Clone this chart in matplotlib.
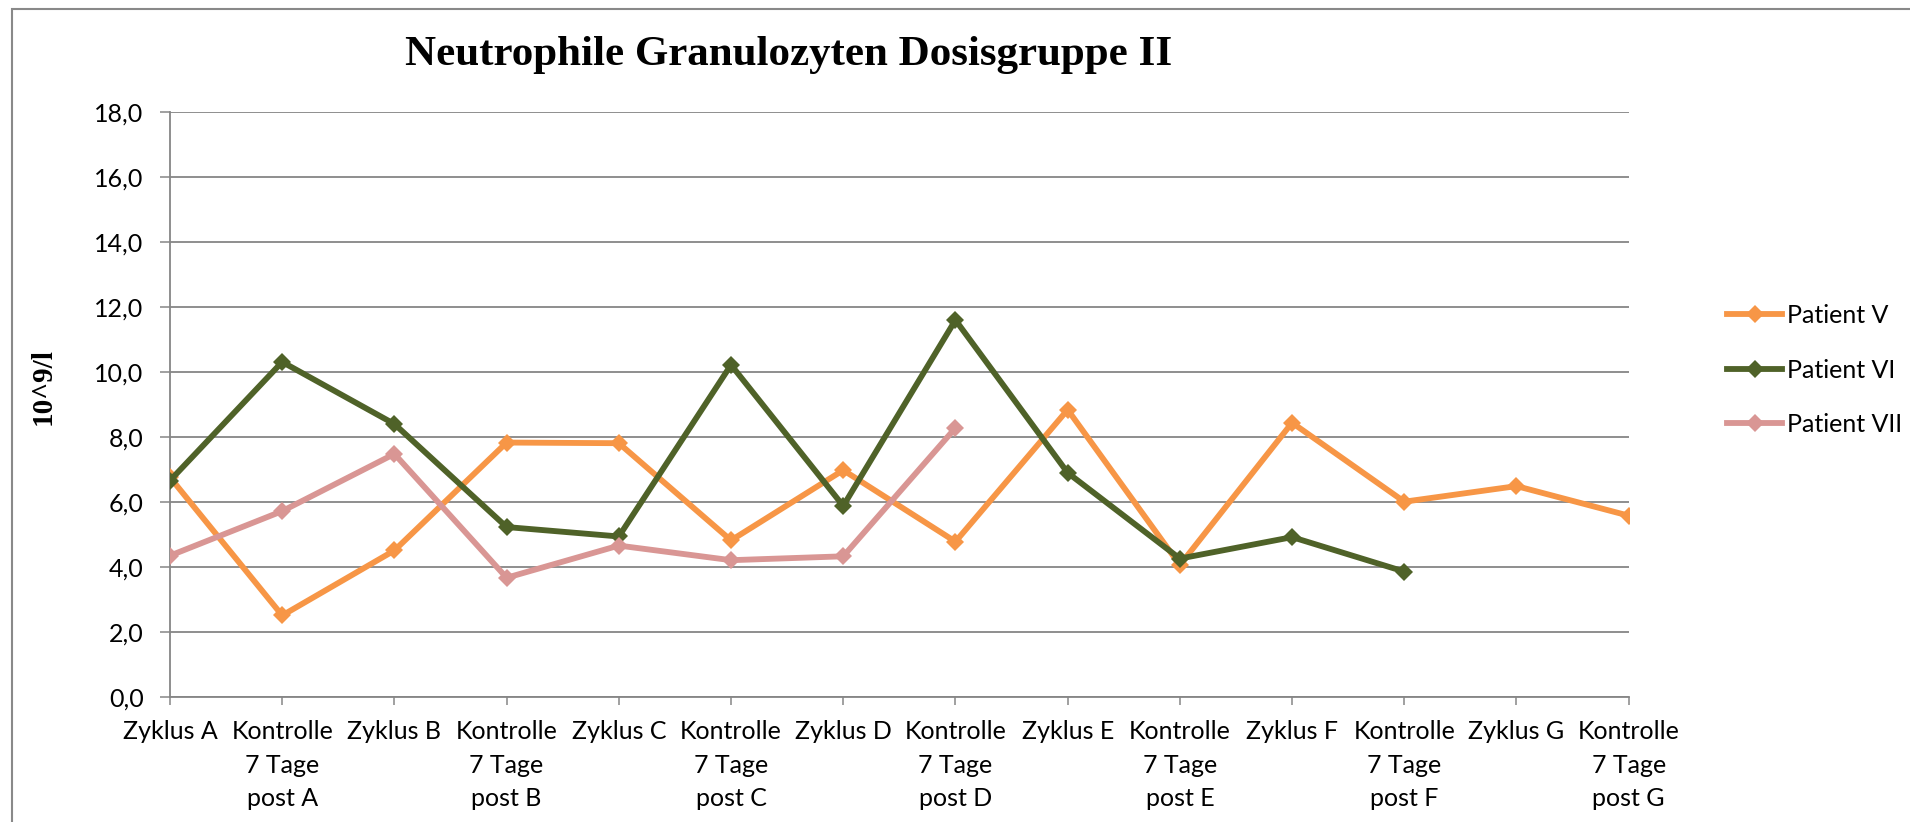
import numpy as np
import matplotlib
matplotlib.use("Agg")
import matplotlib.pyplot as plt
from matplotlib.patches import Rectangle

categories = ["Zyklus A", "Kontrolle\n7 Tage\npost A", "Zyklus B", "Kontrolle\n7 Tage\npost B",
              "Zyklus C", "Kontrolle\n7 Tage\npost C", "Zyklus D", "Kontrolle\n7 Tage\npost D",
              "Zyklus E", "Kontrolle\n7 Tage\npost E", "Zyklus F", "Kontrolle\n7 Tage\npost F",
              "Zyklus G", "Kontrolle\n7 Tage\npost G"]
nan = np.nan
patient_v = [6.75, 2.5, 4.5, 7.82, 7.8, 4.81, 6.97, 4.77, 8.83, 4.05, 8.43, 6.0, 6.48, 5.57]
patient_vi = [6.65, 10.3, 8.39, 5.22, 4.93, 10.21, 5.87, 11.59, 6.89, 4.25, 4.91, 3.85, nan, nan]
patient_vii = [4.34, 5.71, 7.47, 3.66, 4.65, 4.2, 4.32, 8.27, nan, nan, nan, nan, nan, nan]
series_names = ["Patient V", "Patient VI", "Patient VII"]
colors = ["#F79646", "#4F6228", "#D99694"]
yticks = np.arange(0, 18.1, 2.0)
title = "Neutrophile Granulozyten Dosisgruppe II"
ylabel = "10^9/l"

W, H = 1910, 822
fig = plt.figure(figsize=(W / 100, H / 100), dpi=100)
tickfont = ["Lato", "DejaVu Sans"]
serif = ["Liberation Serif", "DejaVu Serif"]
fs = 18

ax = fig.add_axes([170 / W, 1 - 696.7 / H, (1628.7 - 170) / W, (696.7 - 111.7) / H])
x = np.arange(len(categories))
for vals, name, c in zip([patient_v, patient_vi, patient_vii], series_names, colors):
    ax.plot(x, vals, color=c, lw=4.2, marker="D", markersize=9, markeredgewidth=0,
            label=name, solid_joinstyle="round", zorder=3)

ax.set_xlim(0, len(categories) - 1)
ax.set_ylim(0, 18)
ax.set_yticks(yticks)
ax.set_yticklabels([f"{v:.1f}".replace(".", ",") for v in yticks], family=tickfont, fontsize=fs)
ax.set_xticks(x)
ax.set_xticklabels(categories, family=tickfont, fontsize=fs, linespacing=1.55)
gray = "#868686"
ax.grid(axis="y", color=gray, lw=1.3)
ax.set_axisbelow(True)
for s in ["top", "right"]:
    ax.spines[s].set_visible(False)
for s in ["left", "bottom"]:
    ax.spines[s].set_color(gray)
    ax.spines[s].set_linewidth(1.3)
ax.tick_params(axis="y", length=7, width=1.1, color=gray, pad=12)
ax.tick_params(axis="x", length=6, width=1.1, color=gray, pad=11)

fig.text(789 / W, 1 - 55 / H, title, family=serif, fontweight="bold", fontsize=31,
         ha="center", va="center")
fig.text(43 / W, 1 - 387 / H, ylabel, family=serif, fontweight="bold", fontsize=21,
         ha="center", va="center", rotation=90)

leg = fig.legend(loc="center left", bbox_to_anchor=(1727 / W, 1 - 370 / H), frameon=False,
                 prop={"family": tickfont, "size": fs}, borderpad=0, borderaxespad=0,
                 handlelength=2.2, handletextpad=0.2, labelspacing=1.25)

fig.add_artist(Rectangle((12 / W, -0.1), 1.2, 1 - 9 / H + 0.1, transform=fig.transFigure,
                         fill=False, edgecolor="#898989", lw=1.5))

fig.savefig("out.png", dpi=100)
